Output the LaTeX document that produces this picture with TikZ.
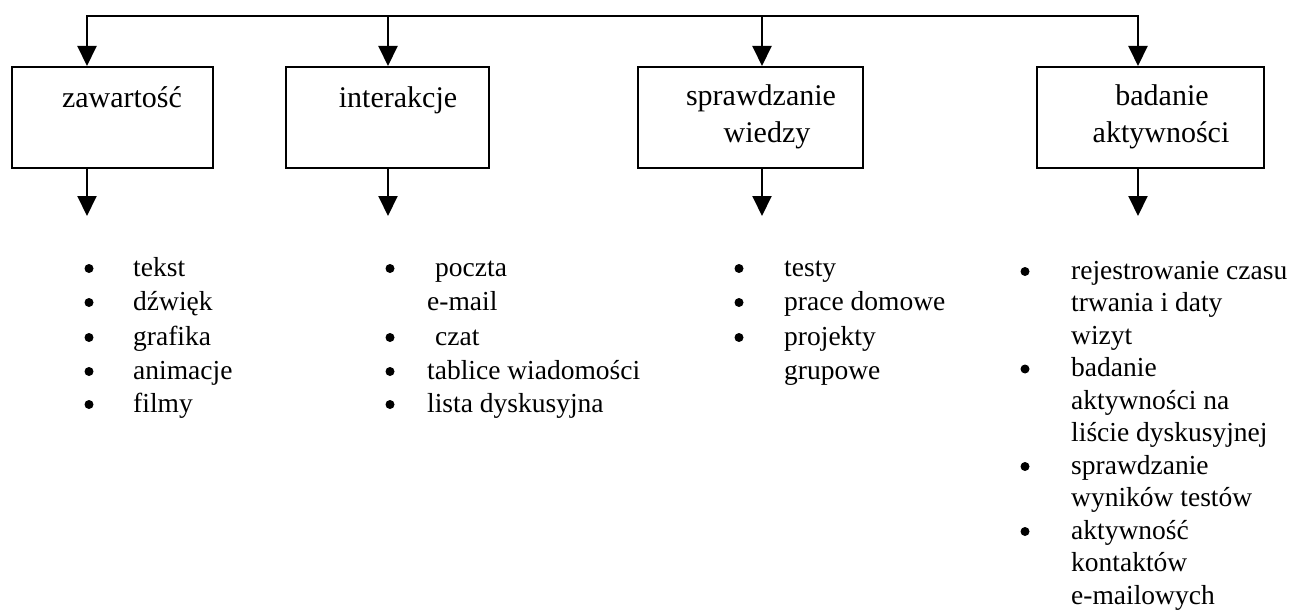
\documentclass[tikz,border=0pt]{standalone}
\usepackage{fontspec}
\setmainfont{Liberation Serif}
\usetikzlibrary{arrows.meta}
\begin{document}
\begin{tikzpicture}[x=1pt,y=-1pt,
  conn/.style={line width=2pt},
  arr/.style={conn,-{Triangle[length=20pt,width=19pt]}},
  box/.style={draw,line width=2pt,inner sep=0pt,minimum height=101pt},
  head/.style={font=\fontsize{30}{36}\selectfont,anchor=base,inner sep=0pt},
  item/.style={font=\fontsize{27.5}{33}\selectfont,anchor=base west,inner sep=0pt},
  dot/.style={circle,fill=black,inner sep=0pt,minimum size=9pt,yshift=7.5pt}]
\useasboundingbox (0,0) rectangle (1291,610);

% boxes
\node[box,minimum width=201pt] (b1) at (112.5,117.5) {};
\node[box,minimum width=203pt] (b2) at (387.5,117.5) {};
\node[box,minimum width=225pt] (b3) at (750.5,117.5) {};
\node[box,minimum width=227pt] (b4) at (1150.5,117.5) {};

% box texts
\node[head] (t1) at (122,107) {zawartość};
\node[head] (t2) at (398,107) {interakcje};
\node[head] (t3a) at (761,106) {sprawdzanie};
\node[head] (t3b) at (767,142) {wiedzy};
\node[head] (t4a) at (1162,106) {badanie};
\node[head] (t4b) at (1161,142) {aktywności};

% connectors
\coordinate (s1) at (87,16);
\coordinate (s2) at (388,16);
\coordinate (s3) at (762,16);
\coordinate (s4) at (1138,16);
\coordinate (e1) at (87,216);
\coordinate (e2) at (388,216);
\coordinate (e3) at (762,216);
\coordinate (e4) at (1138,216);
\draw[conn,line cap=rect] (s1) -- (s4);
\draw[arr] (s1) -- (s1 |- b1.north);
\draw[arr] (s2) -- (s2 |- b2.north);
\draw[arr] (s3) -- (s3 |- b3.north);
\draw[arr] (s4) -- (s4 |- b4.north);
\draw[arr] (s1 |- b1.south) -- (e1);
\draw[arr] (s2 |- b2.south) -- (e2);
\draw[arr] (s3 |- b3.south) -- (e3);
\draw[arr] (s4 |- b4.south) -- (e4);

% column 1
\node[dot] (d11) at (89,276) {};
\node[item] (l11) at (133,276) {tekst};
\node[dot] (d12) at (89,310) {};
\node[item] (l12) at (133,310) {dźwięk};
\node[dot] (d13) at (89,345) {};
\node[item] (l13) at (133,345) {grafika};
\node[dot] (d14) at (89,379) {};
\node[item] (l14) at (133,379) {animacje};
\node[dot] (d15) at (89,412) {};
\node[item] (l15) at (133,412) {filmy};

% column 2
\node[dot] (d21) at (390,276) {};
\node[item] (l21) at (435,276) {poczta};
\node[item] (l22) at (427,310) {e-mail};
\node[dot] (d23) at (390,345) {};
\node[item] (l23) at (435,345) {czat};
\node[dot] (d24) at (390,379) {};
\node[item] (l24) at (427,379) {tablice wiadomości};
\node[dot] (d25) at (390,412) {};
\node[item] (l25) at (427,412) {lista dyskusyjna};

% column 3
\node[dot] (d31) at (739,276) {};
\node[item] (l31) at (784,276) {testy};
\node[dot] (d32) at (739,310) {};
\node[item] (l32) at (784,310) {prace domowe};
\node[dot] (d33) at (739,345) {};
\node[item] (l33) at (784,345) {projekty};
\node[item] (l34) at (784,379) {grupowe};

% column 4
\node[dot] (d41) at (1025,279) {};
\node[item] (l41) at (1071,279) {rejestrowanie czasu};
\node[item] (l42) at (1071,311.5) {trwania i daty};
\node[item] (l43) at (1071,344) {wizyt};
\node[dot] (d44) at (1025,376.5) {};
\node[item] (l44) at (1071,376.5) {badanie};
\node[item] (l45) at (1071,409) {aktywności na};
\node[item] (l46) at (1071,441.5) {liście dyskusyjnej};
\node[dot] (d47) at (1025,474) {};
\node[item] (l47) at (1071,474) {sprawdzanie};
\node[item] (l48) at (1071,506.5) {wyników testów};
\node[dot] (d49) at (1025,539) {};
\node[item] (l49) at (1071,539) {aktywność};
\node[item] (l410) at (1071,571.5) {kontaktów};
\node[item] (l411) at (1071,604) {e-mailowych};
\end{tikzpicture}
\end{document}
